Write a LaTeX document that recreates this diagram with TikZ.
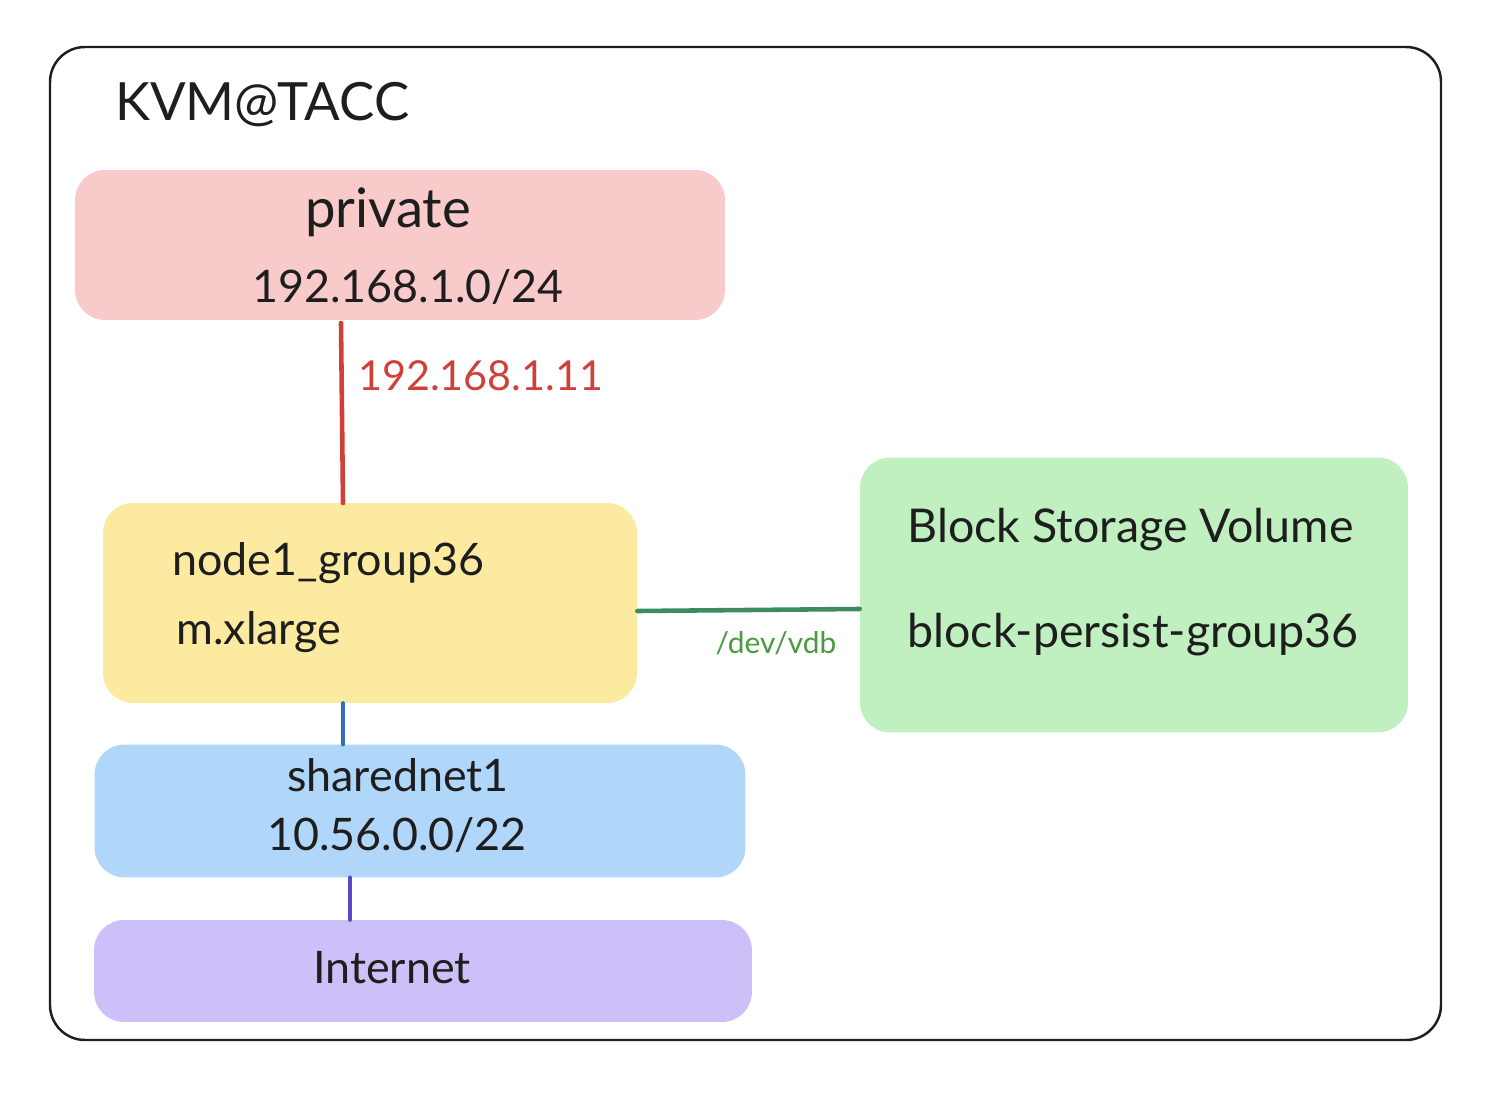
\documentclass[tikz,border=0pt]{standalone}
\usepackage{fontspec}
\setmainfont{Lato}
\usetikzlibrary{positioning}
\definecolor{privfill}{HTML}{F8CACA}
\definecolor{privline}{HTML}{D0403A}
\definecolor{vmfill}{HTML}{FBEAA0}
\definecolor{volfill}{HTML}{C0F0C0}
\definecolor{volline}{HTML}{3D8C60}
\definecolor{vollabel}{HTML}{4A9A40}
\definecolor{netfill}{HTML}{B0D6FA}
\definecolor{netline}{HTML}{2F6FC0}
\definecolor{inetfill}{HTML}{CDC0F8}
\definecolor{inetline}{HTML}{5B45C8}
\definecolor{ink}{HTML}{1E1E1E}

\begin{document}
\begin{tikzpicture}[x=0.02cm, y=-0.02cm,
    box/.style={rectangle, rounded corners=0.6cm, draw=none, inner sep=0pt},
    txt/.style={text=ink, inner sep=0pt, font=\fontsize{25.5}{30}\selectfont},
    link/.style={line width=2.6pt, line cap=round}]
    \useasboundingbox (0,0) rectangle (1502,1108);

    % outer frame
    \draw[ink, line width=1.4pt, rounded corners=0.7cm] (50,47) rectangle (1441,1040);
    \node[txt, anchor=west, font=\fontsize{30}{34}\selectfont] (title) at (115,105) {KVM@TACC};

    % networks and instance
    \node[box, fill=privfill, minimum width=13cm, minimum height=3cm] (private) at (400,245) {};
    \node[txt, font=\fontsize{31}{36}\selectfont] (privname) at (388,212) {private};
    \node[txt] (privcidr) at (408,287) {192.168.1.0/24};

    \node[box, fill=vmfill, minimum width=10.68cm, minimum height=4cm] (vm) at (370,603) {};
    \node[txt, anchor=west] (vmname) at (172,563) {node1\_group36};
    \node[txt, anchor=west] (vmflavor) at (176,632) {m.xlarge};

    \node[box, fill=volfill, minimum width=10.96cm, minimum height=5.5cm] (vol) at (1134,595) {};
    \node[txt, anchor=west, font=\fontsize{26.5}{30}\selectfont] (volname) at (907,530) {Block Storage Volume};
    \node[txt, anchor=west, font=\fontsize{26.5}{30}\selectfont] (volid) at (907,635) {block-persist-group36};

    \node[box, fill=netfill, minimum width=13.02cm, minimum height=2.66cm] (shared) at (420,811) {};
    \node[txt] (sharedname) at (398,775) {sharednet1};
    \node[txt] (sharedcidr) at (397,835) {10.56.0.0/22};

    \node[box, fill=inetfill, minimum width=13.16cm, minimum height=2.04cm] (inet) at (423,971) {};
    \node[txt] (inetname) at (392,968) {Internet};

    % connectors
    \coordinate (privport) at (341,323);
    \coordinate (vmtop) at (343,503);
    \draw[link, privline] (privport) -- (vmtop);
    \node[txt, text=privline, anchor=west, font=\fontsize{23.5}{28}\selectfont] (privip) at (358,376) {192.168.1.11};

    \draw[link, volline] (vm.east |- 0,611) -- (vol.west |- 0,609);
    \node[txt, text=vollabel, font=\fontsize{17}{20}\selectfont] (dev) at (776,643) {/dev/vdb};

    \draw[link, netline] (343,0 |- vm.south) -- (343,0 |- shared.north);
    \draw[link, inetline] (350,0 |- shared.south) -- (350,0 |- inet.north);
\end{tikzpicture}
\end{document}
